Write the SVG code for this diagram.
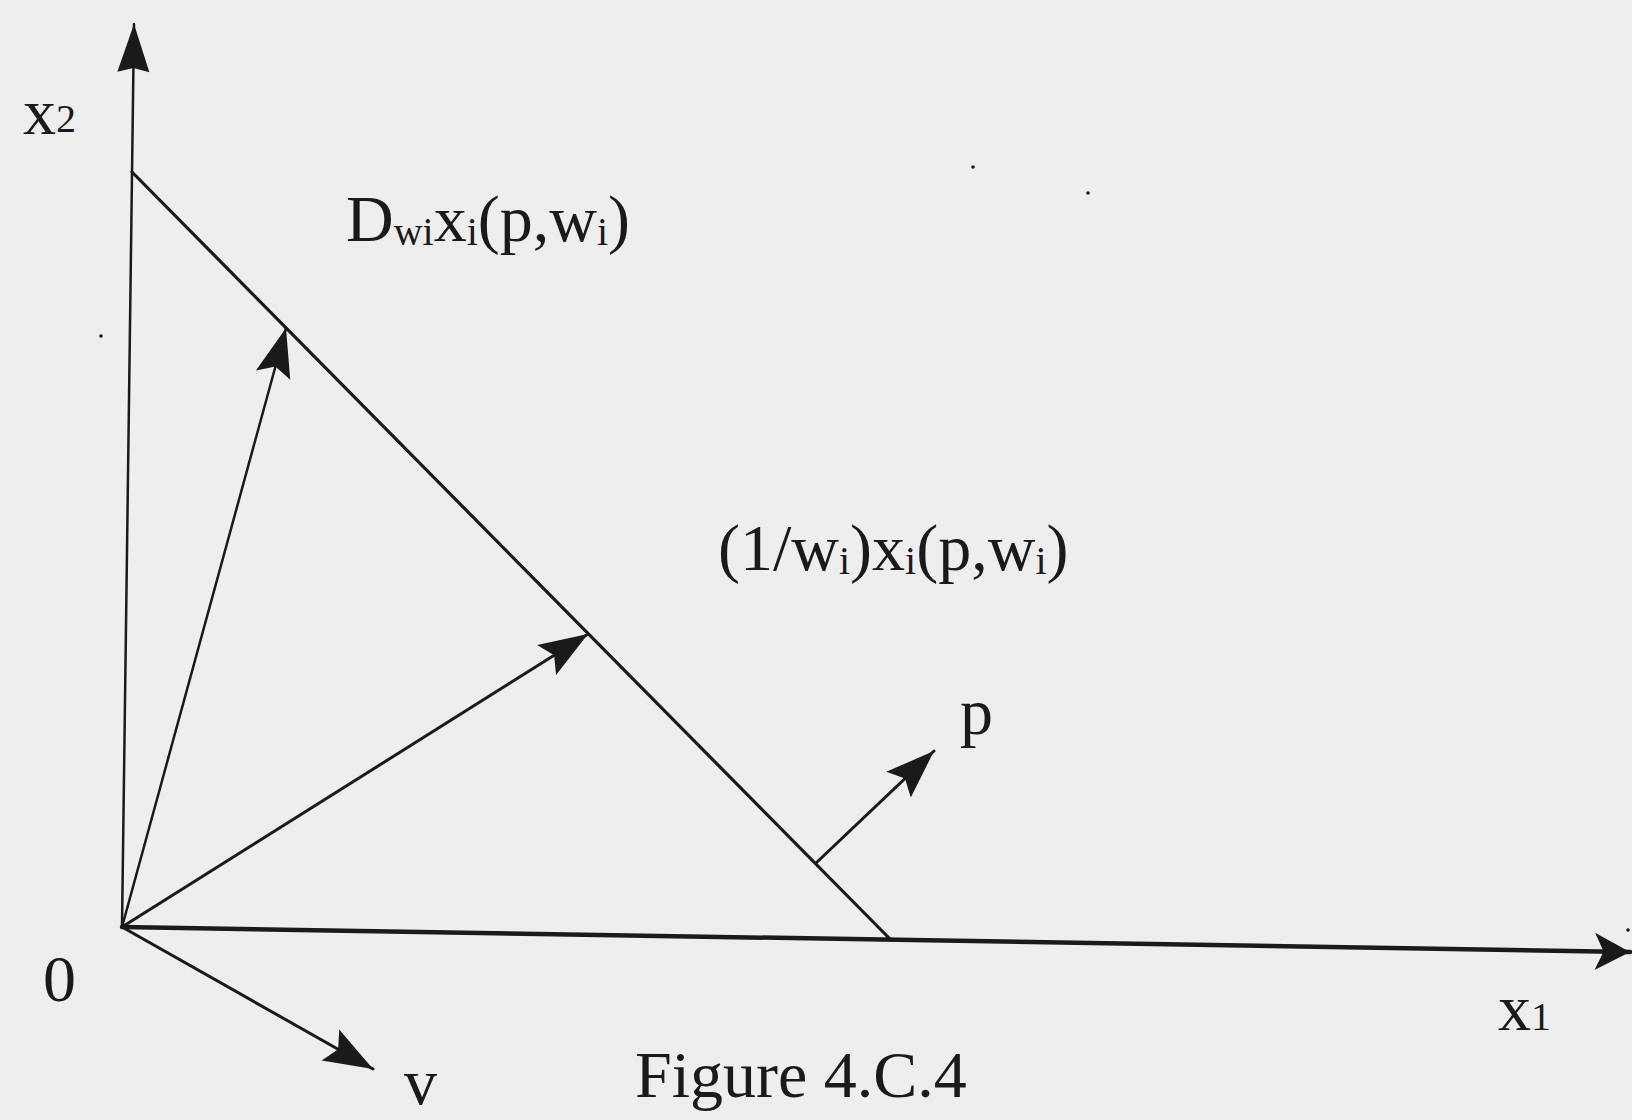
<svg xmlns="http://www.w3.org/2000/svg" width="1632" height="1120" viewBox="0 0 1632 1120">
<style>
  .ln { stroke:#1a1a1a; fill:none; stroke-linecap:round; }
  .t { font-family:"Liberation Serif","Times New Roman",serif; font-size:66px; fill:#1a1a1a; }
  .s { font-size:40px; }
</style>
<defs>
  <marker id="ah" markerUnits="userSpaceOnUse" markerWidth="60" markerHeight="40" viewBox="-46 -18 50 36" refX="0" refY="0" orient="auto">
    <path d="M0,0 L-44,-16 L-36,0 L-44,16 Z" fill="#1a1a1a"/>
  </marker>
  <marker id="ahx" markerUnits="userSpaceOnUse" markerWidth="50" markerHeight="44" viewBox="-40 -20 44 40" refX="0" refY="0" orient="auto">
    <path d="M0,0 L-32,-17 L-24,0 L-32,17 Z" fill="#1a1a1a"/>
  </marker>
  <marker id="ahy" markerUnits="userSpaceOnUse" markerWidth="54" markerHeight="40" viewBox="-50 -18 54 36" refX="0" refY="0" orient="auto">
    <path d="M0,0 L-48,-16 L-44,0 L-48,16 Z" fill="#1a1a1a"/>
  </marker>
</defs>
<rect x="0" y="0" width="1632" height="1120" fill="#eeeeee"/>

<g id="connectors">
  <line id="x2-axis" class="ln" x1="122" y1="927" x2="134" y2="24" stroke-width="2.5" marker-end="url(#ahy)"/>
  <line id="x1-axis" class="ln" x1="122" y1="927" x2="1630" y2="952" stroke-width="4.5" marker-end="url(#ahx)"/>
  <line id="budget-line" class="ln" x1="132" y1="172" x2="890" y2="939" stroke-width="3.2"/>
  <line id="arrow-dw" class="ln" x1="122" y1="927" x2="286" y2="328" stroke-width="2.5" marker-end="url(#ah)"/>
  <line id="arrow-xw" class="ln" x1="122" y1="927" x2="588" y2="634" stroke-width="3" marker-end="url(#ah)"/>
  <line id="arrow-p" class="ln" x1="816" y1="863" x2="934" y2="751" stroke-width="3" marker-end="url(#ah)"/>
  <line id="arrow-v" class="ln" x1="122" y1="927" x2="373" y2="1069" stroke-width="3" marker-end="url(#ah)"/>
</g>

<g id="label-x2"><text class="t" x="23" y="134">x<tspan class="s" font-size="36" dy="-2">2</tspan></text></g>
<g id="label-dw"><text class="t" x="346" y="241">D<tspan class="s" dy="4">wi</tspan><tspan dy="-4">x</tspan><tspan class="s" dy="4">i</tspan><tspan dy="-4">(p,w</tspan><tspan class="s" dy="4">i</tspan><tspan dy="-4">)</tspan></text></g>
<g id="label-xw"><text class="t" x="718" y="570">(1/w<tspan class="s" dy="4">i</tspan><tspan dy="-4">)x</tspan><tspan class="s" dy="4">i</tspan><tspan dy="-4">(p,w</tspan><tspan class="s" dy="4">i</tspan><tspan dy="-4">)</tspan></text></g>
<g id="label-p"><text class="t" x="960" y="734">p</text></g>
<g id="label-0"><text class="t" x="43" y="1001">0</text></g>
<g id="label-x1"><text class="t" x="1498" y="1030">x<tspan class="s" font-size="42">1</tspan></text></g>
<g id="label-v"><text class="t" x="404" y="1104">v</text></g>
<g id="caption"><text class="t" x="635" y="1097">Figure 4.C.4</text></g>

<g id="specks" fill="#1a1a1a">
  <circle cx="973" cy="167" r="1.8"/>
  <circle cx="1088" cy="193" r="1.8"/>
  <circle cx="101" cy="336" r="1.8"/>
  <circle cx="1628" cy="930" r="1.8"/>
</g>
</svg>
